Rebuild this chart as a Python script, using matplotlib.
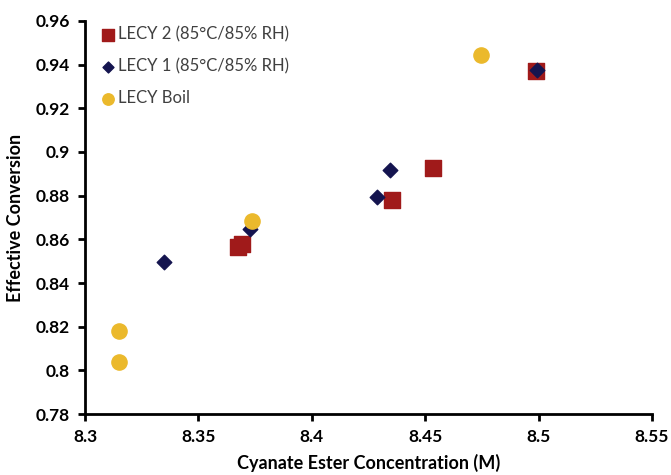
import matplotlib
matplotlib.use("Agg")
import matplotlib.pyplot as plt

plt.rcParams['font.family'] = ['Lato', 'DejaVu Sans']

# LECY 2 (85C/85% RH)
lecy2_x = [8.3675, 8.369, 8.4355, 8.4535, 8.4990]
lecy2_y = [0.8563, 0.8577, 0.8782, 0.8928, 0.9373]

# LECY 1 (85C/85% RH)
lecy1_x = [8.3350, 8.3728, 8.4288, 8.4345, 8.4992]
lecy1_y = [0.8497, 0.8649, 0.8792, 0.8918, 0.9375]

# LECY Boil
boil_x = [8.3150, 8.3150, 8.3735, 8.4745]
boil_y = [0.8180, 0.8040, 0.8683, 0.9445]

fig = plt.figure(figsize=(6.71, 4.75), dpi=100)
ax = fig.add_axes([0.1267, 0.1284, 0.845, 0.8274])

ax.scatter(lecy2_x, lecy2_y, marker='s', s=125, c='#A01A1A', label='LECY 2 (85°C/85% RH)', zorder=2)
ax.scatter(lecy1_x, lecy1_y, marker='D', s=55, c='#14144F', label='LECY 1 (85°C/85% RH)', zorder=3)
ax.scatter(boil_x, boil_y, marker='o', s=120, c='#EBB92C', label='LECY Boil', zorder=4)

ax.set_xlim(8.3, 8.55)
ax.set_ylim(0.78, 0.96)
ax.set_xticks([8.3, 8.35, 8.4, 8.45, 8.5, 8.55])
ax.set_xticklabels(['8.3', '8.35', '8.4', '8.45', '8.5', '8.55'])
ax.set_yticks([0.78, 0.8, 0.82, 0.84, 0.86, 0.88, 0.9, 0.92, 0.94, 0.96])
ax.set_yticklabels(['0.78', '0.8', '0.82', '0.84', '0.86', '0.88', '0.9', '0.92', '0.94', '0.96'])

for s in ['top', 'right']:
    ax.spines[s].set_visible(False)
for s in ['left', 'bottom']:
    ax.spines[s].set_linewidth(2)
ax.tick_params(width=2, length=5, labelsize=12.5, pad=6)
for lab in ax.get_xticklabels() + ax.get_yticklabels():
    lab.set_fontweight('bold')

ax.set_xlabel('Cyanate Ester Concentration (M)', fontsize=13, fontweight='bold', labelpad=6)
ax.set_ylabel('Effective Conversion', fontsize=13, fontweight='bold', labelpad=8)

leg = ax.legend(loc='upper left', bbox_to_anchor=(0.0, 1.025), frameon=False, fontsize=12,
                labelspacing=0.95, handletextpad=0.1, handlelength=1.0, markerscale=0.75)
for t in leg.get_texts():
    t.set_color('#404040')

fig.savefig('out.png', dpi=100)
